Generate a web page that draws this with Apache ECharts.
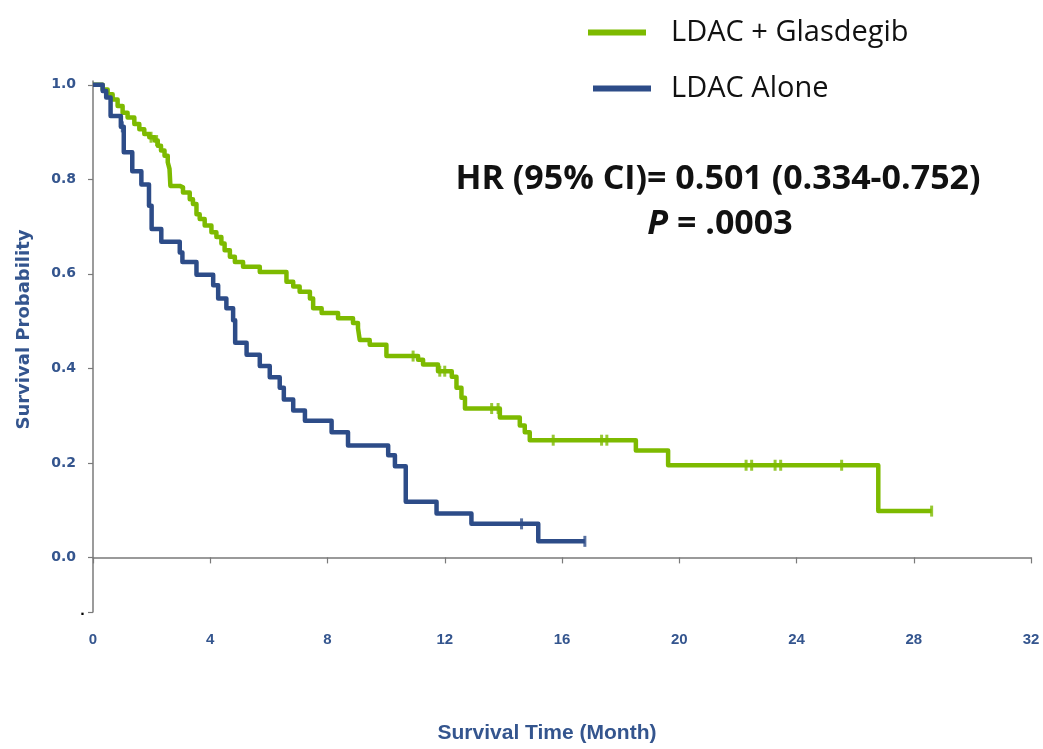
<!DOCTYPE html>
<html>
<head>
<meta charset="utf-8">
<script src="https://cdn.jsdelivr.net/npm/echarts@6/dist/echarts.min.js"></script>
<style>
html,body{margin:0;padding:0;background:#fff;}
#chart{width:1043px;height:749px;}
</style>
</head>
<body>
<div id="chart"></div>
<script>
// ---- data ----
var seriesNames = ['LDAC + Glasdegib', 'LDAC Alone'];

var greenTime = [0, 0.33, 0.50, 0.67, 0.84, 1.01, 1.18, 1.41, 1.58, 1.75, 1.92, 2.10, 2.21, 2.32, 2.44, 2.55, 2.61, 2.64, 2.96, 3.07, 3.30, 3.41, 3.53, 3.64, 3.81, 4.04, 4.21, 4.38, 4.49, 4.67, 4.84, 5.12, 5.69, 6.60, 6.83, 7.05, 7.40, 7.51, 7.80, 8.36, 8.87, 9.04, 9.10, 9.44, 10.01, 11.09, 11.26, 11.77, 12.24, 12.40, 12.57, 12.69, 13.88, 14.56, 14.73, 14.90, 18.52, 19.62, 26.79, 28.61];
var greenSurv = [1.0, 0.990, 0.980, 0.969, 0.955, 0.941, 0.931, 0.917, 0.906, 0.896, 0.889, 0.882, 0.871, 0.861, 0.850, 0.836, 0.822, 0.786, 0.783, 0.772, 0.758, 0.748, 0.726, 0.716, 0.702, 0.688, 0.678, 0.664, 0.650, 0.636, 0.625, 0.615, 0.604, 0.583, 0.573, 0.562, 0.548, 0.527, 0.517, 0.506, 0.496, 0.485, 0.460, 0.450, 0.426, 0.418, 0.408, 0.394, 0.382, 0.359, 0.338, 0.315, 0.296, 0.279, 0.265, 0.248, 0.226, 0.195, 0.098, 0.098];
var greenCensorTime = [1.98, 2.17, 10.92, 11.83, 12.00, 13.60, 13.82, 15.70, 17.35, 17.53, 22.28, 22.47, 23.27, 23.46, 25.54, 28.61];
var greenCensorSurv = [0.889, 0.882, 0.426, 0.394, 0.394, 0.315, 0.315, 0.248, 0.248, 0.248, 0.195, 0.195, 0.195, 0.195, 0.195, 0.098];

var blueTime = [0, 0.33, 0.45, 0.60, 0.95, 1.05, 1.34, 1.65, 1.91, 2.00, 2.33, 2.96, 3.05, 3.53, 4.10, 4.27, 4.55, 4.78, 4.85, 5.24, 5.69, 6.03, 6.37, 6.51, 6.83, 7.23, 8.14, 8.70, 10.07, 10.30, 10.67, 11.72, 12.91, 15.19, 16.78];
var blueSurv = [1.0, 0.987, 0.973, 0.934, 0.911, 0.857, 0.817, 0.789, 0.744, 0.695, 0.668, 0.645, 0.625, 0.598, 0.576, 0.548, 0.527, 0.502, 0.454, 0.429, 0.405, 0.381, 0.359, 0.334, 0.311, 0.289, 0.265, 0.237, 0.216, 0.193, 0.118, 0.093, 0.071, 0.034, 0.034];
var blueCensorTime = [1.00, 14.62, 16.78];
var blueCensorSurv = [0.911, 0.071, 0.034];

var xTicks = [0, 4, 8, 12, 16, 20, 24, 28, 32];
var yTickLabels = [0, 0.2, 0.4, 0.6, 0.8, 1.0];
var hrText = 'HR (95% CI)= 0.501 (0.334-0.752)';
var pLetter = 'P';
var pText = ' = .0003';

var GREEN = '#7DBA00';
var BLUE = '#2D4C88';
var LABEL = '#34558E';

function zip(a, b) { return a.map(function (v, i) { return [v, b[i]]; }); }

var yMin = -0.1155, yMax = 1.008;
var yCustom = [yMin].concat(yTickLabels);

var chart = echarts.init(document.getElementById('chart'), null, {renderer: 'canvas'});
chart.setOption({
  animation: false,
  backgroundColor: '#ffffff',
  grid: {left: 93, right: 12, top: 81, bottom: 133, containLabel: false},
  legend: [
    {
      data: [seriesNames[0]], left: 583, top: 13, orient: 'vertical',
      icon: 'rect', itemWidth: 58, itemHeight: 6, selectedMode: false,
      textStyle: {fontFamily: 'Open Sans', fontSize: 29, color: '#111', padding: [0, 0, 0, 20]}
    },
    {
      data: [seriesNames[1]], left: 588, top: 69, orient: 'vertical',
      icon: 'rect', itemWidth: 58, itemHeight: 6, selectedMode: false,
      textStyle: {fontFamily: 'Open Sans', fontSize: 29, color: '#111', padding: [0, 0, 0, 15]}
    }
  ],
  xAxis: {
    type: 'value', min: 0, max: 32, interval: 4,
    name: 'Survival Time (Month)', nameLocation: 'middle', nameGap: 111,
    nameTextStyle: {fontFamily: 'Liberation Sans', fontWeight: 'bold', fontSize: 21, color: LABEL, padding: [0, 30, 0, 0]},
    axisLine: {show: true, lineStyle: {color: '#7a7a7a', width: 1.5}},
    axisTick: {show: true, inside: false, length: 6, lineStyle: {color: '#7a7a7a', width: 1.2}},
    axisLabel: {margin: 20, fontFamily: 'Liberation Sans', fontWeight: 'bold', fontSize: 15, color: LABEL,
      formatter: function (v) { return xTicks.indexOf(v) >= 0 ? String(v) : ''; }},
    splitLine: {show: false}
  },
  yAxis: {
    type: 'value', min: yMin, max: yMax,
    name: 'Survival Probability', nameLocation: 'middle', nameGap: 60, nameRotate: 90,
    nameTextStyle: {fontFamily: 'DejaVu Sans', fontWeight: 'bold', fontSize: 18, color: LABEL, padding: [0, 0, 0, 34]},
    axisLine: {show: true, lineStyle: {color: '#7a7a7a', width: 1.5}},
    axisTick: {show: true, inside: false, length: 5, customValues: yCustom, lineStyle: {color: '#7a7a7a', width: 1.2}},
    axisLabel: {
      margin: 8, customValues: yCustom,
      formatter: function (v) { return v < -0.01 ? '{d|.}' : '{n|' + v.toFixed(1) + '}'; },
      rich: {
        n: {fontFamily: 'DejaVu Sans', fontWeight: 'bold', fontSize: 14, color: LABEL, padding: [0, 9, 0, 0]},
        d: {fontFamily: 'DejaVu Sans', fontWeight: 'bold', fontSize: 13, color: '#000'}
      }
    },
    splitLine: {show: false}
  },
  graphic: [
    {type: 'text', id: 'hr', x: 718, y: 179, z: 20,
      style: {text: hrText, fontFamily: 'Open Sans', fontWeight: 'bold', fontSize: 34,
        fill: '#111', align: 'center', verticalAlign: 'middle'}},
    {type: 'text', id: 'p', x: 720, y: 224, z: 20,
      style: {text: '{i|' + pLetter + '}{b|' + pText + '}', align: 'center', verticalAlign: 'middle',
        rich: {
          i: {fontFamily: 'Open Sans', fontWeight: 'bold', fontStyle: 'italic', fontSize: 34, fill: '#111'},
          b: {fontFamily: 'Open Sans', fontWeight: 'bold', fontSize: 34, fill: '#111'}
        }}}
  ],
  series: [
    {
      name: seriesNames[0], type: 'line', step: 'end', data: zip(greenTime, greenSurv),
      showSymbol: false, symbol: 'none', color: GREEN,
      lineStyle: {color: GREEN, width: 4.5, join: 'round'}, z: 3
    },
    {
      name: seriesNames[1], type: 'line', step: 'end', data: zip(blueTime, blueSurv),
      showSymbol: false, symbol: 'none', color: BLUE,
      lineStyle: {color: BLUE, width: 4.5, join: 'round'}, z: 4
    },
    {
      name: 'gcensor', type: 'scatter', data: zip(greenCensorTime, greenCensorSurv),
      symbol: 'rect', symbolSize: [3, 11], itemStyle: {color: GREEN}, z: 5, silent: true
    },
    {
      name: 'bcensor', type: 'scatter', data: zip(blueCensorTime, blueCensorSurv),
      symbol: 'rect', symbolSize: [3, 11], itemStyle: {color: BLUE}, z: 6, silent: true
    }
  ]
});
</script>
</body>
</html>
